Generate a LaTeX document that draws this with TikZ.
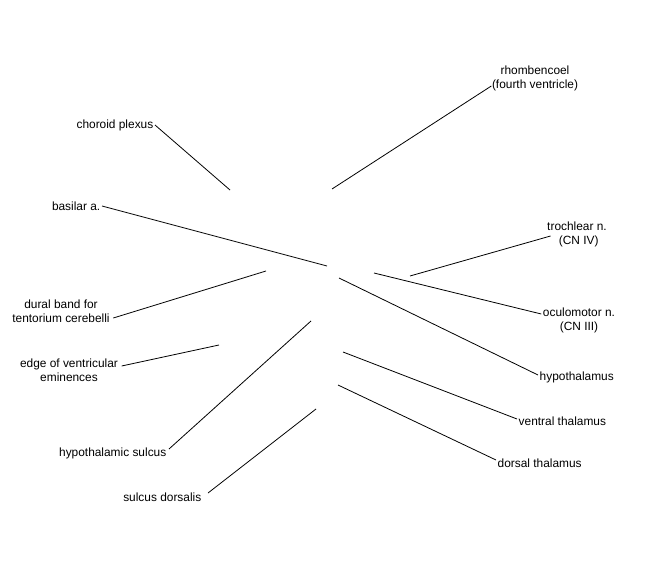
\documentclass[tikz,border=0pt]{standalone}
\usepackage{fontspec}
\setmainfont{Liberation Sans}
\begin{document}
\begin{tikzpicture}[x=1pt,y=-1pt,
  lbl/.style={inner sep=1.5pt, font=\fontsize{11.9}{14}\selectfont, align=center},
  lead/.style={draw=black, line width=0.8pt}]
\useasboundingbox (0,0) rectangle (650,580);
% labels
\node[lbl, anchor=east] (cp) at (155,125) {choroid plexus};
\node[lbl] (rh) at (535,78) {rhombencoel\\(fourth ventricle)};
\node[lbl, anchor=east] (ba) at (102,206) {basilar a.};
\node[lbl] (tr) at (577,234) {trochlear n.\\\ (CN IV)};
\node[lbl] (oc) at (579,320) {oculomotor n.\\(CN III)};
\node[lbl, anchor=west] (hy) at (538,377) {hypothalamus};
\node[lbl, anchor=west] (vt) at (517,421) {ventral thalamus};
\node[lbl, anchor=west] (dt) at (496,463) {dorsal thalamus};
\node[lbl, anchor=east] (hs) at (168,453) {hypothalamic sulcus};
\node[lbl, anchor=east] (sd) at (203,497) {sulcus dorsalis};
\node[lbl] (ev) at (69,370) {edge of ventricular\\eminences};
\node[lbl] (db) at (61,311) {dural band for\\tentorium cerebelli};
% free ends
\coordinate (cpT) at (230,190);
\coordinate (rhT) at (332,189);
\coordinate (baT) at (327,266);
\coordinate (trT) at (410,276);
\coordinate (ocT) at (374,273);
\coordinate (hyT) at (339,278);
\coordinate (vtT) at (343,352);
\coordinate (dtT) at (338,385);
\coordinate (hsT) at (311,321);
\coordinate (sdT) at (316,409);
\coordinate (evT) at (219,345);
\coordinate (dbT) at (266,271);
% leaders
\draw[lead] (cp.east) -- (cpT);
\draw[lead] ([xshift=1pt,yshift=-8pt]rh.west) -- (rhT);
\draw[lead] (ba.east) -- (baT);
\draw[lead] ([xshift=5pt,yshift=-2pt]tr.west) -- (trT);
\draw[lead] ([yshift=6pt]oc.west) -- (ocT);
\draw[lead] ([yshift=2pt]hy.west) -- (hyT);
\draw[lead] ([yshift=2pt]vt.west) -- (vtT);
\draw[lead] ([yshift=3pt]dt.west) -- (dtT);
\draw[lead] ([xshift=1pt,yshift=4pt]hs.east) -- (hsT);
\draw[lead] ([xshift=5pt,yshift=4pt]sd.east) -- (sdT);
\draw[lead] ([xshift=2pt,yshift=4pt]ev.east) -- (evT);
\draw[lead] ([xshift=2pt,yshift=-7pt]db.east) -- (dbT);
\end{tikzpicture}
\end{document}
